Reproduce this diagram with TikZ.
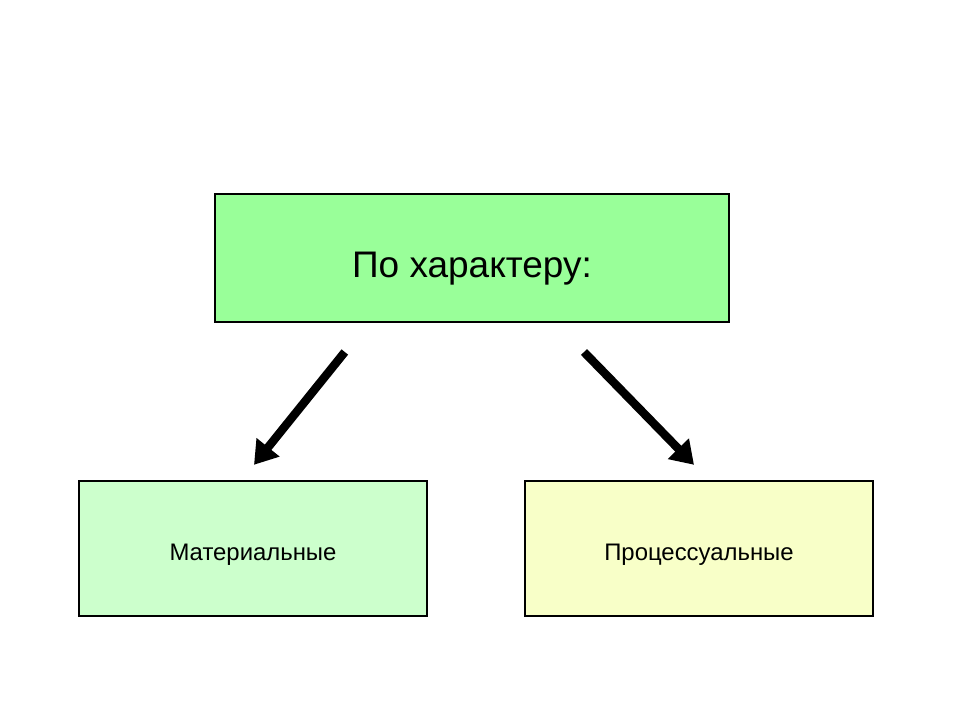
\documentclass[tikz,border=0pt]{standalone}
\usepackage{fontspec}
\setmainfont{Liberation Sans}
\usepackage{tikz}
\usetikzlibrary{arrows.meta, positioning}

\definecolor{topgreen}{HTML}{99FF99}
\definecolor{lightgreen}{HTML}{CCFFCC}
\definecolor{lightyellow}{HTML}{F8FFC8}

\tikzset{
  kindbox/.style={draw=black, line width=1.6pt, minimum width=8.7cm, minimum height=3.375cm, font=\fontsize{17}{19}\selectfont},
  bigarrow/.style={line width=6pt, -{Triangle[length=16pt, width=20pt]}}
}

\begin{document}
\begin{tikzpicture}
  \useasboundingbox (0,0) rectangle (24,18);

  % main box
  \node[draw=black, line width=1.6pt, fill=topgreen, minimum width=12.85cm, minimum height=3.2cm,
        font=\fontsize{26.3}{29}\selectfont] (harakter) at (11.8,11.55) {\raisebox{-0.48cm}[0pt][0pt]{По характеру:}};

  % two kinds
  \node[kindbox, fill=lightgreen] (mater) at (6.325,4.29) {\raisebox{-0.31cm}[0pt][0pt]{Материальные}};
  \node[kindbox, fill=lightyellow] (process) at (17.475,4.29) {\raisebox{-0.31cm}[0pt][0pt]{Процессуальные}};

  % arrows
  \coordinate (lstart) at (8.62,9.2);
  \coordinate (lend) at (6.35,6.38);
  \coordinate (rstart) at (14.6,9.2);
  \coordinate (rend) at (17.35,6.38);
  \draw[bigarrow] (lstart) -- (lend);
  \draw[bigarrow] (rstart) -- (rend);
\end{tikzpicture}
\end{document}
